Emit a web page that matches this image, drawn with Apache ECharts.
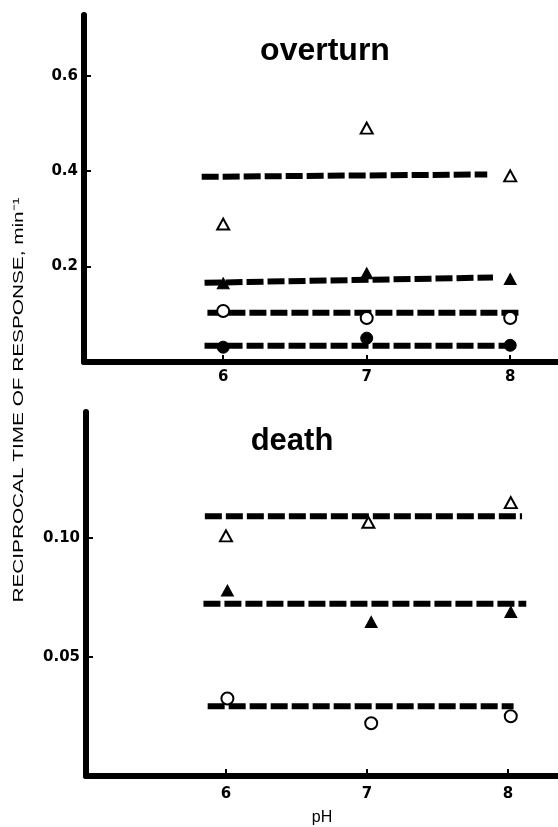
<!DOCTYPE html>
<html><head><meta charset="utf-8">
<script src="https://cdn.jsdelivr.net/npm/echarts@6/dist/echarts.min.js"></script>
<style>html,body{margin:0;padding:0;background:#fff}#c{width:558px;height:827px}</style>
</head><body><div id="c"></div>
<script>
// ---- data ----
const xTickValues = [6, 7, 8];
const topYTicks = [0.2, 0.4, 0.6];
const botYTicks = [0.05, 0.10];
const yTitle = 'RECIPROCAL TIME OF RESPONSE, min⁻¹';
const xTitle = 'pH';
const panelTitles = ['overturn', 'death'];

// overturn panel
const ovOpenTri   = [[6, 0.289], [7, 0.490], [8, 0.390]];
const ovFilledTri = [[6, 0.165], [7, 0.186], [8, 0.174]];
const ovOpenCirc  = [[6, 0.107], [7, 0.092], [8, 0.092]];
const ovFilledCirc= [[6, 0.031], [7, 0.050], [8, 0.035]];
const ovLine1 = [[5.85, 0.388], [7.84, 0.393]];
const ovLine2 = [[5.87, 0.166], [7.88, 0.177]];
const ovLine3 = [[5.89, 0.103], [8.07, 0.103]];
const ovLine4 = [[5.87, 0.034], [8.05, 0.034]];

// death panel
const deOpenTri   = [[6, 0.1010], [7.01, 0.1067], [8.02, 0.1150]];
const deFilledTri = [[6.01, 0.0780], [7.03, 0.0648], [8.02, 0.0690]];
const deOpenCirc  = [[6.01, 0.0326], [7.03, 0.0222], [8.02, 0.0251]];
const deLine1 = [[5.85, 0.1093], [8.10, 0.1093]];
const deLine2 = [[5.84, 0.0724], [8.13, 0.0724]];
const deLine3 = [[5.87, 0.0293], [8.04, 0.0293]];

// ---- chart ----
const chart = echarts.init(document.getElementById('c'), null, {renderer: 'canvas'});
const labelFont = {fontFamily: 'DejaVu Sans', fontWeight: 'bold', fontSize: 15, color: '#000'};

function xAxisCfg(grid, min, max, margin, extra) {
  return Object.assign({
    gridIndex: grid, type: 'value', min: min, max: max,
    axisLine: {show: true, onZero: false, lineStyle: {color: '#000', width: 6}},
    axisTick: {show: true, inside: true, length: 7, customValues: xTickValues, lineStyle: {color: '#000', width: 2}},
    axisLabel: Object.assign({customValues: xTickValues, margin: margin, formatter: v => String(Math.round(v))}, labelFont),
    splitLine: {show: false}
  }, extra || {});
}
function yAxisCfg(grid, max, ticks, digits) {
  return {
    gridIndex: grid, type: 'value', min: 0, max: max,
    axisLine: {show: true, onZero: false, lineStyle: {color: '#000', width: 6}},
    axisTick: {show: true, inside: true, length: 7, customValues: ticks, lineStyle: {color: '#000', width: 2}},
    axisLabel: Object.assign({customValues: ticks, margin: 6, formatter: v => v.toFixed(digits)}, labelFont),
    splitLine: {show: false}
  };
}
function dashLine(data, xi) {
  return {type: 'line', xAxisIndex: xi, yAxisIndex: xi, data: data, symbol: 'none', silent: true,
    lineStyle: {color: '#000', width: 6, type: [17, 4], cap: 'butt', opacity: 1}, z: 2};
}
function marks(data, xi, symbol, filled) {
  const sz = symbol === 'triangle' ? [12, 11] : 12;
  return {type: 'scatter', xAxisIndex: xi, yAxisIndex: xi, data: data, symbol: symbol, symbolSize: sz, z: 5,
    itemStyle: filled ? {color: '#000', borderColor: '#000', borderWidth: 1, opacity: 1}
                      : {color: '#fff', borderColor: '#000', borderWidth: 2, opacity: 1}};
}

// measure y title for stretching to the reference length
const ctx = document.createElement('canvas').getContext('2d');
ctx.font = '15px "Liberation Sans"';
const yTitleW = ctx.measureText(yTitle).width;
const yTitleScale = 405 / yTitleW;

chart.setOption({
  animation: false,
  backgroundColor: '#fff',
  grid: [
    {left: 84, top: 15, width: 474, height: 347},
    {left: 86, top: 412, width: 472, height: 366}
  ],
  xAxis: [
    xAxisCfg(0, 5.03, 8.333, 8),
    xAxisCfg(1, 5.007, 8.355, 11, {name: xTitle, nameLocation: 'middle', nameGap: 34,
      nameTextStyle: {fontFamily: 'Liberation Sans', fontSize: 16, color: '#000'}})
  ],
  yAxis: [
    yAxisCfg(0, 0.727, topYTicks, 1),
    yAxisCfg(1, 0.1531, botYTicks, 2)
  ],
  graphic: [
    {type: 'text', x: 19, y: 400, rotation: Math.PI / 2, scaleX: yTitleScale, scaleY: 1,
      style: {text: yTitle, font: '15px "Liberation Sans"', fill: '#000',
        textAlign: 'center', textVerticalAlign: 'middle', align: 'center', verticalAlign: 'middle'}},
    {type: 'text', x: 325, y: 51,
      style: {text: panelTitles[0], font: 'bold 32px "Liberation Sans"', fill: '#000',
        textAlign: 'center', textVerticalAlign: 'middle', align: 'center', verticalAlign: 'middle'}},
    {type: 'text', x: 292, y: 441,
      style: {text: panelTitles[1], font: 'bold 31px "Liberation Sans"', fill: '#000',
        textAlign: 'center', textVerticalAlign: 'middle', align: 'center', verticalAlign: 'middle'}}
  ],
  series: [
    dashLine(ovLine1, 0), dashLine(ovLine2, 0), dashLine(ovLine3, 0), dashLine(ovLine4, 0),
    marks(ovOpenTri, 0, 'triangle', false),
    marks(ovFilledTri, 0, 'triangle', true),
    marks(ovOpenCirc, 0, 'circle', false),
    marks(ovFilledCirc, 0, 'circle', true),
    dashLine(deLine1, 1), dashLine(deLine2, 1), dashLine(deLine3, 1),
    marks(deOpenTri, 1, 'triangle', false),
    marks(deFilledTri, 1, 'triangle', true),
    marks(deOpenCirc, 1, 'circle', false)
  ]
});
</script>
</body></html>
